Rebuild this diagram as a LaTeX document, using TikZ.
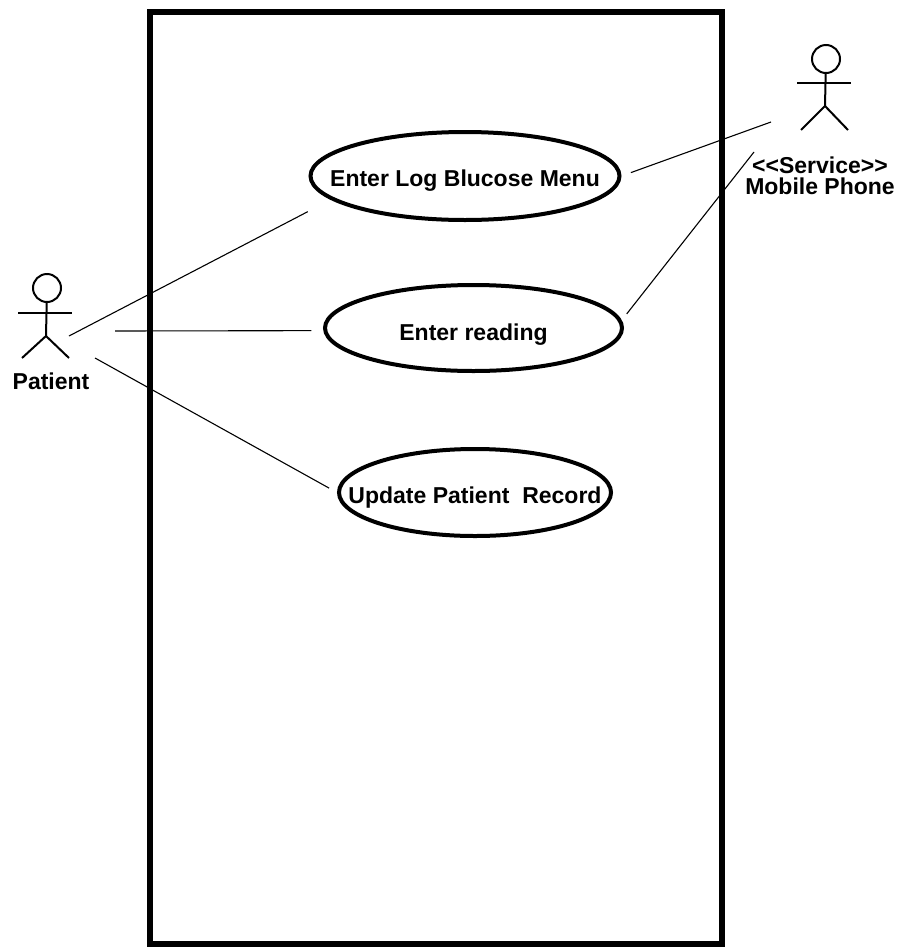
\documentclass[tikz,border=0pt]{standalone}
\usepackage{xcolor}
\usepackage{fontspec}
\setmainfont{Liberation Sans}
\usetikzlibrary{shapes.geometric}
\tikzset{
  usecase/.style={draw, ellipse, line width=4pt, inner xsep=-50pt, inner ysep=-20pt, text height=20pt, text depth=0pt, font=\bfseries\fontsize{23pt}{25pt}\selectfont},
  actorlabel/.style={align=center, inner sep=0pt, font=\bfseries\fontsize{23pt}{20.5pt}\selectfont},
  link/.style={line width=1.1pt},
  stick/.style={line width=2pt}
}
\begin{document}
\begin{tikzpicture}[x=1pt, y=-1pt]
  \useasboundingbox (0,0) rectangle (897,948);
  \node[draw, line width=6.5pt, minimum width=572pt, minimum height=932pt, inner sep=0pt] (systembox) at (436,478) {};
  \node[usecase, minimum width=309pt, minimum height=88pt] (logmenu) at (465,176) {Enter Log Blucose Menu};
  \node[usecase, minimum width=297pt, minimum height=86pt, text height=24pt] (reading) at (473.5,328) {Enter reading};
  \node[usecase, minimum width=272pt, minimum height=87pt, text height=21pt] (record) at (475,492.5) {Update Patient\ \ Record};
  % patient
  \node[draw, stick, circle, minimum size=28pt, inner sep=0pt] (patienthead) at (47,288) {};
  \coordinate (patienthip) at (46,336);
  \coordinate (patientarml) at (18,313);
  \coordinate (patientarmr) at (72,313);
  \coordinate (patientfootl) at (22,358);
  \coordinate (patientfootr) at (69,358);
  \draw[stick] (patienthead) -- (patienthip);
  \draw[stick] (patientarml) -- (patientarmr);
  \draw[stick] (patientfootl) -- (patienthip) -- (patientfootr);
  \node[actorlabel] (patient) at (51,381) {Patient};
  % phone
  \node[draw, stick, circle, minimum size=28pt, inner sep=0pt] (phonehead) at (826,59) {};
  \coordinate (phonehip) at (825,106);
  \coordinate (phonearml) at (797,83);
  \coordinate (phonearmr) at (851,83);
  \coordinate (phonefootl) at (801,130);
  \coordinate (phonefootr) at (848,130);
  \draw[stick] (phonehead) -- (phonehip);
  \draw[stick] (phonearml) -- (phonearmr);
  \draw[stick] (phonefootl) -- (phonehip) -- (phonefootr);
  \node[actorlabel] (phone) at (820,176) {{<}{<}Service{>}{>}\\Mobile Phone};
  % connectors
  \coordinate (patientlinka) at (69,336);
  \coordinate (patientlinkb) at (115,331);
  \coordinate (patientlinkc) at (95,358);
  \coordinate (phonelinka) at (771,122);
  \coordinate (phonelinkb) at (754,152);
  \draw[link, shorten >=26pt] (patientlinka) -- (logmenu.190);
  \draw[link, shorten >=12pt] (patientlinkb) -- (reading.181.2);
  \draw[link, shorten >=9pt] (patientlinkc) -- (record.west);
  \draw[link, shorten <=10pt] (logmenu.east) -- (phonelinka);
  \draw[link, shorten <=8pt] (reading.3.5) -- (phonelinkb);
\end{tikzpicture}
\end{document}
